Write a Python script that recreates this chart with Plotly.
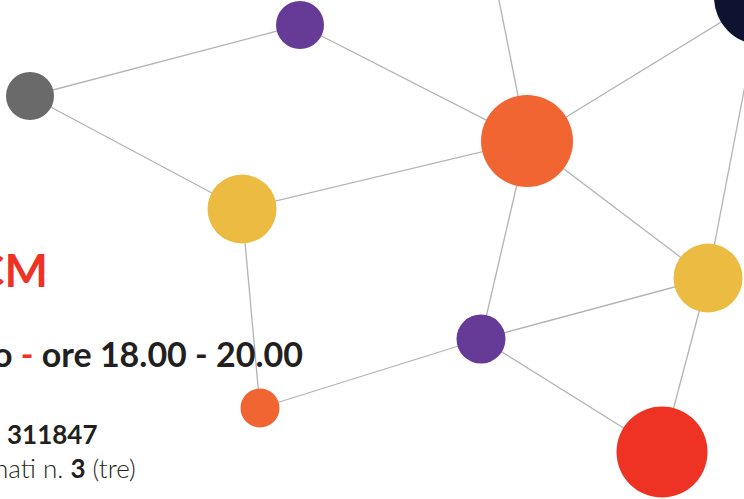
import plotly.graph_objects as go

# Network nodes (pixel coordinates of the picture, y downward)
node_x = [30, 300, 242, 527, 762, 708, 481, 260, 662, 490]
node_y = [96, 25, 209, 141, -3, 278, 339, 408, 452, -45]
node_d = [48, 48, 69, 92, 96, 69, 49, 39, 91, 0]
node_color = ["#6a6a6a", "#663b97", "#ecbc42", "#f06531", "#0d1331",
              "#ecbc42", "#663b97", "#f06531", "#ee3224", "#ffffff"]

# Edges as pairs of node indices
edges = [(0, 1), (0, 2), (1, 3), (2, 3), (2, 7), (7, 6), (6, 3), (6, 5),
         (6, 8), (3, 5), (3, 4), (3, 9), (5, 8), (5, 4)]

# Text lines
title_text = "CM"
line2_text = "o <span style='color:#ee3224'>-</span> ore 18.00 - 20.00"
line3_text = "311847"
line4_text = "nati n. <b>3</b> (tre)"

fig = go.Figure()

ex, ey = [], []
for a, b in edges:
    ex += [node_x[a], node_x[b], None]
    ey += [node_y[a], node_y[b], None]

fig.add_trace(go.Scatter(x=ex, y=ey, mode="lines",
                         line=dict(color="#b3b3b3", width=1.3),
                         hoverinfo="skip", showlegend=False))

fig.add_trace(go.Scatter(x=node_x, y=node_y, mode="markers",
                         marker=dict(size=node_d, color=node_color, opacity=1,
                                     line=dict(width=0)),
                         hoverinfo="skip", showlegend=False))

font_family = "Lato, 'Open Sans', sans-serif"
dark = "#231f20"

fig.add_annotation(x=50, y=269, xref="x", yref="y", text=title_text,
                   showarrow=False, xanchor="right", yanchor="middle",
                   font=dict(family=font_family, size=46, color="#ee3224", weight=700))
fig.add_annotation(x=305, y=353, xref="x", yref="y", text=line2_text,
                   showarrow=False, xanchor="right", yanchor="middle",
                   font=dict(family=font_family, size=34, color=dark, weight=700))
fig.add_annotation(x=99, y=434, xref="x", yref="y", text=line3_text,
                   showarrow=False, xanchor="right", yanchor="middle",
                   font=dict(family=font_family, size=26, color=dark, weight=700))
fig.add_annotation(x=138, y=468, xref="x", yref="y", text=line4_text,
                   showarrow=False, xanchor="right", yanchor="middle",
                   font=dict(family=font_family, size=26, color=dark, weight=300))

fig.update_layout(
    width=744, height=499, autosize=False,
    margin=dict(l=0, r=0, t=0, b=0, pad=0),
    paper_bgcolor="white", plot_bgcolor="white",
    xaxis=dict(range=[0, 744], visible=False, fixedrange=True),
    yaxis=dict(range=[499, 0], visible=False, fixedrange=True),
)

fig.write_html("out.html", config={"displayModeBar": False},
               post_script="document.body.style.margin='0';document.body.style.overflow='hidden';")
